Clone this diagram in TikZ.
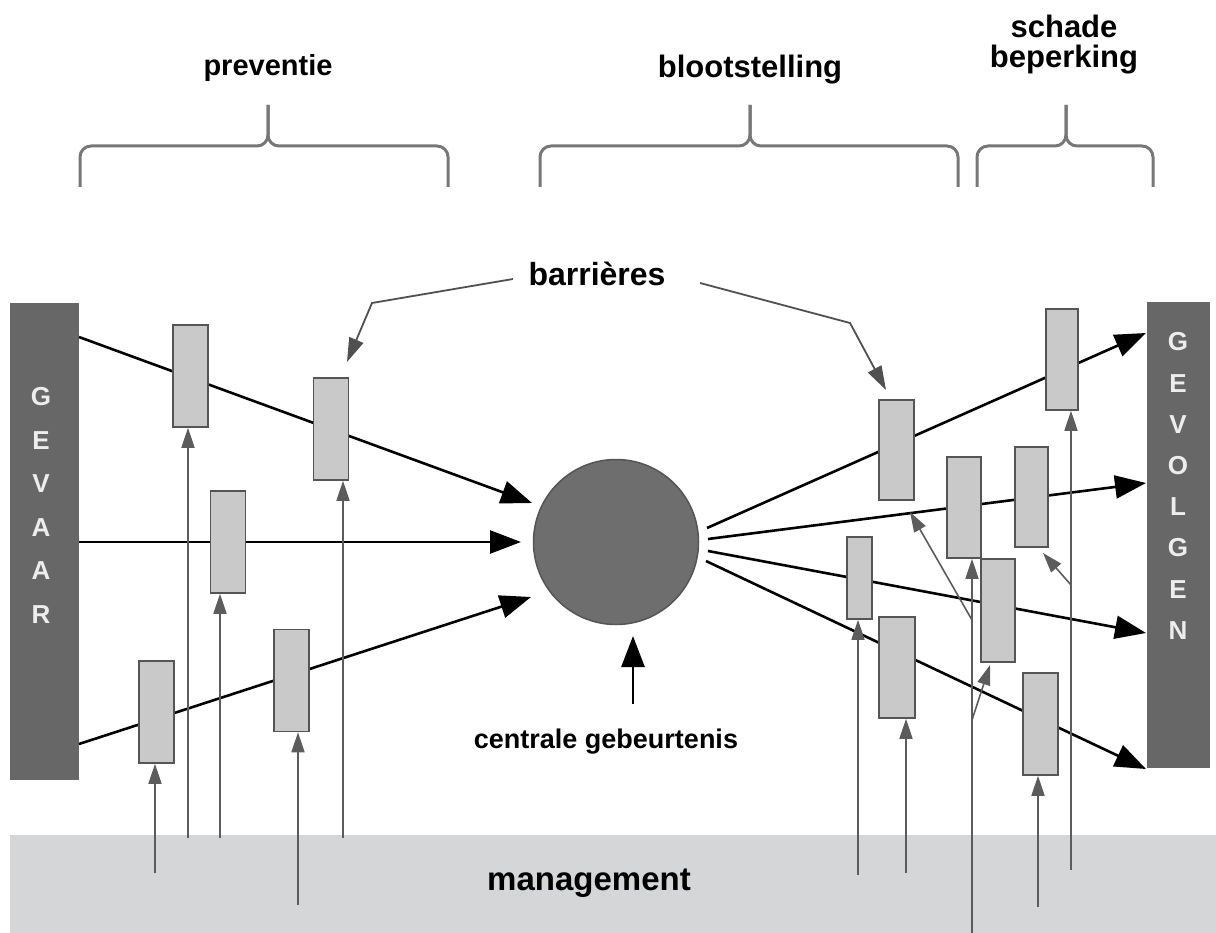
\documentclass[tikz,border=0pt]{standalone}
\usepackage{fontspec}
\setmainfont{Liberation Sans}
\usetikzlibrary{arrows.meta,calc}
\definecolor{boxc}{HTML}{676767}
\definecolor{circc}{HTML}{6E6E6E}
\definecolor{circb}{HTML}{555555}
\definecolor{barfill}{HTML}{C9C9C9}
\definecolor{barline}{HTML}{555555}
\definecolor{bandc}{HTML}{D5D6D8}
\definecolor{mgc}{HTML}{5C5C5C}
\definecolor{bracec}{HTML}{777777}
\definecolor{leadc}{HTML}{505050}
\definecolor{lettc}{HTML}{EDEDED}
\tikzset{
  barrier/.style={draw=barline, line width=1.5pt, fill=barfill, inner sep=0pt, minimum width=35pt, minimum height=102pt},
  flow/.style={line width=2.6pt, -{Triangle[length=31pt,width=23pt]}},
  mgmt/.style={draw=mgc, line width=1.6pt, -{Triangle[length=20pt,width=13pt]}},
  leader/.style={draw=leadc, line width=1.8pt, -{Triangle[length=24pt,width=15pt]}},
  bracestyle/.style={draw=bracec, line width=3pt, rounded corners=11pt},
  label/.style={font=\bfseries\fontsize{31}{34}\selectfont, inner sep=0pt},
  letter/.style={font=\bfseries\fontsize{26}{28}\selectfont, text=lettc, inner sep=0pt},
  sidebox/.style={fill=boxc, inner sep=0pt}
}
\begin{document}
\begin{tikzpicture}[x=1pt,y=-1pt]
\useasboundingbox (0,0) rectangle (1216,933);
% management band
\fill[bandc] (10,835) rectangle (1216,933);
\node[label, font=\bfseries\fontsize{33}{36}\selectfont] (mgmttext) at (589,883) {management};

% braces
\draw[bracestyle] (80,187) -- (80,146) -- (268,146) -- (268,105);
\draw[bracestyle] (448,187) -- (448,146) -- (268,146) -- (268,105);
\draw[bracestyle] (540,187) -- (540,146) -- (750,146) -- (750,105);
\draw[bracestyle] (958,187) -- (958,146) -- (750,146) -- (750,105);
\draw[bracestyle] (977,187) -- (977,146) -- (1066,146) -- (1066,105);
\draw[bracestyle] (1153,187) -- (1153,146) -- (1066,146) -- (1066,105);
\node[label, font=\bfseries\fontsize{29}{32}\selectfont] (prev) at (268,68) {preventie};
\node[label] (bloot) at (750,70) {blootstelling};
\node[label] (schade) at (1064,26) {schade};
\node[label] (beperk) at (1064,60) {beperking};

% side boxes
\node[sidebox, minimum width=69pt, minimum height=477pt] (gevaar) at (44.5,541.5) {};
\foreach \l [count=\i] in {G,E,V,A,A,R}
  \node[letter] (gv\i) at (41,{397+(\i-1)*43.5}) {\l};
\node[sidebox, minimum width=63pt, minimum height=466pt] (gevolgen) at (1178,535) {};
\foreach \l [count=\i] in {G,E,V,O,L,G,E,N}
  \node[letter] (gg\i) at (1178,{342+(\i-1)*41.2}) {\l};

% central event
\node[circle, fill=circc, draw=circb, line width=1.5pt, minimum size=165pt, inner sep=0pt] (ce) at (616,542) {};
\node[label, font=\bfseries\fontsize{27}{30}\selectfont] (cg) at (606,742) {centrale gebeurtenis};
\coordinate (cgtop) at (633,704);
\coordinate (cgtip) at (633,636);
\draw[flow] (cgtop) -- (cgtip);

% flow coordinates
\coordinate (L1s) at (79,337);   \coordinate (L1e) at (532,503);
\coordinate (L2s) at (79,542);   \coordinate (L2e) at (521,542);
\coordinate (L3s) at (79,744);   \coordinate (L3e) at (531,597);
\coordinate (R1s) at (707,528);  \coordinate (R1e) at (1146,333);
\coordinate (R2s) at (708,539);  \coordinate (R2e) at (1146,483);
\coordinate (R3s) at (708,551);  \coordinate (R3e) at (1146,633);
\coordinate (R4s) at (706,561);  \coordinate (R4e) at (1146,769);
\foreach \s/\e in {L1s/L1e,L2s/L2e,L3s/L3e,R1s/R1e,R2s/R2e,R3s/R3e,R4s/R4e}
  \draw[flow] (\s) -- (\e);

% barriers
\node[barrier] (b1) at (190.5,376) {};
\node[barrier] (b2) at (331,429) {};
\node[barrier] (b3) at (228,542) {};
\node[barrier] (b4) at (156.5,712) {};
\node[barrier] (b5) at (291.5,680.5) {};
\node[barrier, minimum height=100pt] (r1) at (896.5,450) {};
\node[barrier, minimum width=32pt, minimum height=101pt] (rt) at (1062,359.5) {};
\node[barrier, minimum width=34pt, minimum height=101pt] (r2) at (964,507.5) {};
\node[barrier, minimum width=33pt, minimum height=100pt] (r3) at (1031.5,497) {};
\node[barrier, minimum width=25pt, minimum height=82pt] (rs) at (859.5,578) {};
\node[barrier, minimum width=36pt, minimum height=101pt] (r4) at (897,667.5) {};
\node[barrier, minimum width=34pt, minimum height=103pt] (r5) at (998,610.5) {};
\node[barrier, minimum height=102pt] (r6) at (1040.5,724) {};

% management arrows
\coordinate (m1) at (155,873);  \draw[mgmt] (m1) -- (m1 |- b4.south);
\coordinate (m2) at (188,838);  \draw[mgmt] (m2) -- (m2 |- b1.south);
\coordinate (m3) at (220,838);  \draw[mgmt] (m3) -- (m3 |- b3.south);
\coordinate (m4) at (298,905);  \draw[mgmt] (m4) -- (m4 |- b5.south);
\coordinate (m5) at (343,838);  \draw[mgmt] (m5) -- (m5 |- b2.south);
\coordinate (n1) at (858,875);  \draw[mgmt] (n1) -- (n1 |- rs.south);
\coordinate (n2) at (906,873);  \draw[mgmt] (n2) -- (n2 |- r4.south);
\coordinate (n3) at (972,933);  \draw[mgmt] (n3) -- (n3 |- r2.south);
\coordinate (n4) at (1038,907); \draw[mgmt] (n4) -- (n4 |- r6.south);
\coordinate (n5) at (1071,870); \draw[mgmt] (n5) -- (n5 |- rt.south);
\coordinate (k1) at (972,620);  \coordinate (k1e) at (910,512);
\draw[mgmt] (k1) -- (k1e);
\coordinate (k2) at (972,720);  \coordinate (k2e) at (990,665);
\draw[mgmt] (k2) -- (k2e);
\coordinate (k3) at (1071,585); \coordinate (k3e) at (1043,553);
\draw[mgmt] (k3) -- (k3e);

% barrieres label and leaders
\node[label, font=\bfseries\fontsize{32}{35}\selectfont] (barr) at (597,274) {barrières};
\coordinate (la) at (513,279); \coordinate (lb) at (372,303); \coordinate (lc) at (347,362);
\draw[leader] (la) -- (lb) -- (lc);
\coordinate (ra) at (700,283); \coordinate (rb) at (850,323); \coordinate (rc) at (886,390);
\draw[leader] (ra) -- (rb) -- (rc);
\end{tikzpicture}
\end{document}
